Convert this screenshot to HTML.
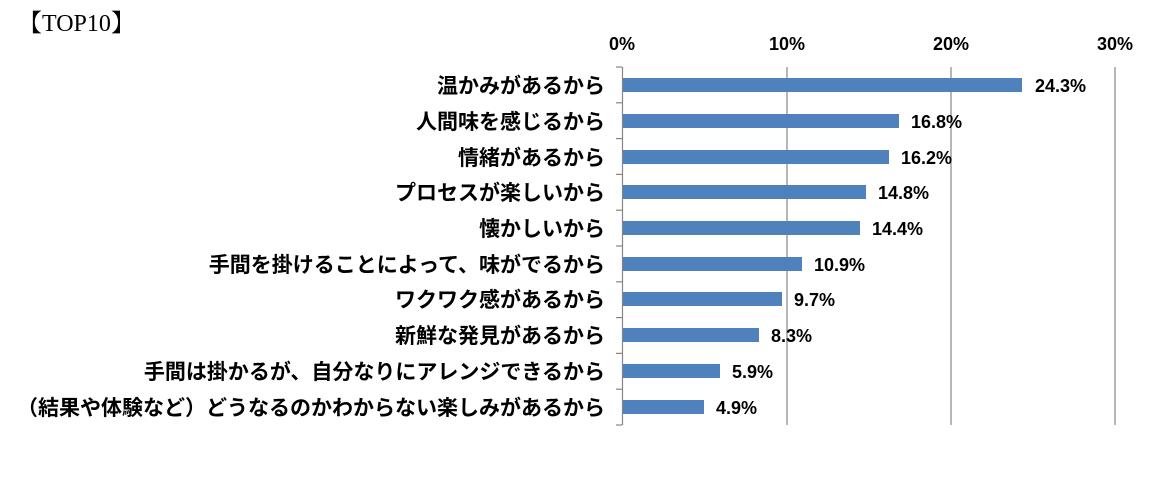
<!DOCTYPE html>
<html><head><meta charset="utf-8"><style>
body{margin:0;background:#fff;}
svg text{font-family:"Liberation Sans","Noto Sans CJK JP",sans-serif;}
</style></head><body>
<svg width="1168" height="472" xmlns="http://www.w3.org/2000/svg">
<rect width="1168" height="472" fill="#fff"/>
<text x="18" y="31" font-size="24" style="font-family:'Liberation Serif','Noto Serif CJK SC',serif" fill="#000">【TOP10】</text>
<g font-size="18" font-weight="bold" text-anchor="middle" fill="#000">
<text x="622" y="50">0%</text><text x="787" y="50">10%</text><text x="951" y="50">20%</text><text x="1115" y="50">30%</text>
</g>
<g stroke="#868686" stroke-width="1.2">
<line x1="787" y1="67" x2="787" y2="425"/><line x1="951" y1="67" x2="951" y2="425"/><line x1="1115" y1="67" x2="1115" y2="425"/>
<line x1="622.5" y1="67" x2="622.5" y2="425"/>
<line x1="616" y1="67" x2="622" y2="67"/><line x1="616" y1="102.8" x2="622" y2="102.8"/><line x1="616" y1="138.6" x2="622" y2="138.6"/><line x1="616" y1="174.4" x2="622" y2="174.4"/><line x1="616" y1="210.2" x2="622" y2="210.2"/><line x1="616" y1="246" x2="622" y2="246"/><line x1="616" y1="281.8" x2="622" y2="281.8"/><line x1="616" y1="317.6" x2="622" y2="317.6"/><line x1="616" y1="353.4" x2="622" y2="353.4"/><line x1="616" y1="389.2" x2="622" y2="389.2"/><line x1="616" y1="425" x2="622" y2="425"/>
</g>
<g fill="#4f81bd">
<rect x="623" y="78" width="399" height="14"/>
<rect x="623" y="114" width="276" height="14"/>
<rect x="623" y="150" width="266" height="14"/>
<rect x="623" y="185" width="243" height="14"/>
<rect x="623" y="221" width="237" height="14"/>
<rect x="623" y="257" width="179" height="14"/>
<rect x="623" y="292" width="159" height="14"/>
<rect x="623" y="328" width="136" height="14"/>
<rect x="623" y="364" width="97" height="14"/>
<rect x="623" y="400" width="81" height="14"/>
</g>
<g font-size="18" font-weight="bold" fill="#000">
<text x="1035" y="92">24.3%</text>
<text x="911" y="128">16.8%</text>
<text x="901" y="164">16.2%</text>
<text x="878" y="199">14.8%</text>
<text x="872" y="235">14.4%</text>
<text x="814" y="271">10.9%</text>
<text x="794" y="306">9.7%</text>
<text x="771" y="342">8.3%</text>
<text x="732" y="378">5.9%</text>
<text x="716" y="414">4.9%</text>
</g>
<g font-size="21" font-weight="bold" text-anchor="end" fill="#000">
<text x="605" y="93">温かみがあるから</text>
<text x="605" y="129">人間味を感じるから</text>
<text x="605" y="165">情緒があるから</text>
<text x="605" y="200">プロセスが楽しいから</text>
<text x="605" y="236">懐かしいから</text>
<text x="605" y="272">手間を掛けることによって、味がでるから</text>
<text x="605" y="307">ワクワク感があるから</text>
<text x="605" y="343">新鮮な発見があるから</text>
<text x="605" y="379">手間は掛かるが、自分なりにアレンジできるから</text>
<text x="605" y="415">（結果や体験など）どうなるのかわからない楽しみがあるから</text>
</g>
</svg>
</body></html>
